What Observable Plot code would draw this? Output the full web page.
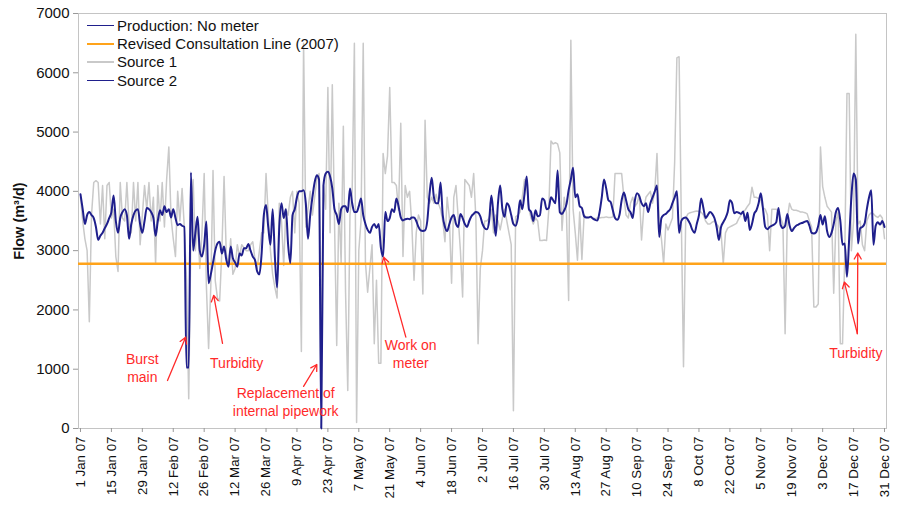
<!DOCTYPE html>
<html><head><meta charset="utf-8">
<script src="https://cdn.jsdelivr.net/npm/d3@7"></script>
<script src="https://cdn.jsdelivr.net/npm/@observablehq/plot@0.6"></script>
<style>
body{margin:0;background:#fff;font-family:"Liberation Sans",Arial,sans-serif}
#wrap{position:relative;width:903px;height:508px;overflow:hidden}
.legend{position:absolute;left:87px;top:16px;font-size:15px;color:#111}
.legend div{display:flex;align-items:center;height:18.4px;white-space:nowrap}
.legend .sw{display:inline-block;width:27px;height:0;margin-right:3px}
.ylab{position:absolute;left:19px;top:221px;transform:translate(-50%,-50%) rotate(-90deg);font-weight:bold;font-size:14.5px;white-space:nowrap;color:#111}
</style></head>
<body>
<div id="wrap">
  <div id="chart"></div>
  <div class="legend" id="legend"></div>
  <div class="ylab">Flow (m³/d)</div>
</div>
<script>
// ---- data (daily flows, 1 Jan 07 .. 31 Dec 07) ----
const seriesNames = ["Production: No meter", "Revised Consultation Line (2007)", "Source 1", "Source 2"];
const consultationLine = 2780;
const source2 = [
3950,3700,3450,3600,3650,3600,3550,3400,3180,3250,
3300,3380,3450,3550,3650,3930,3500,3300,3550,3650,
3700,3600,3200,3450,3600,3680,3700,3450,3300,3500,
3720,3700,3650,3550,3250,3500,3680,3600,3750,3650,
3700,3560,3700,3550,3430,3450,3420,3400,1030,1030,
4320,3000,3300,3570,3000,2900,3100,3490,2450,2600,
2800,3000,3120,3150,2950,3070,2850,2730,3070,2870,
2800,2730,2950,2920,3040,3040,3110,3000,2900,2840,
2650,2600,2950,3600,3770,3400,3100,3700,2900,2380,
3400,3800,3550,3700,3100,2790,3600,3700,3900,4000,
4000,4020,3800,3200,3600,3900,4150,4270,4200,0,
4100,4300,4330,4250,4050,3700,3600,3450,3700,3750,
3750,3650,4050,3800,3650,3650,3750,3880,3600,3450,
3350,3300,3400,3450,3380,3450,3050,2900,3650,3500,
3550,3700,3650,3880,3750,3560,3510,3530,3540,3530,
3560,3560,3500,3400,3340,3330,3340,3500,3950,4230,
3900,3800,3800,4150,3600,3400,3330,3450,3560,3600,
3450,3400,3620,3550,3450,3400,3500,3580,3620,3650,
3640,3580,3450,3380,3360,3500,3930,3600,3250,3800,
4100,3700,3570,3800,3750,3600,3450,3420,3550,3850,
3700,3950,4250,3700,3650,3500,3680,3580,3600,3880,
3850,3700,3720,3900,3850,3800,4350,3650,3620,3680,
3780,4020,4200,4400,3900,3950,3750,3720,3580,3560,
3560,3570,3540,3520,3510,3650,3900,4200,4050,3850,
3820,3680,3550,3520,3600,3850,3980,3850,3700,3650,
3550,3850,3970,3920,3800,3750,3800,3650,3800,3900,
4000,4100,3230,3550,3600,3620,3660,3700,3800,3900,
4000,3300,3500,3550,3560,3520,3450,3350,3300,3450,
3600,3880,3720,3550,3600,3650,3620,3550,3400,3180,
3400,3480,3550,3650,3850,3800,3630,3650,3640,3620,
3660,3500,3640,3350,3450,3620,3680,3800,3970,3700,
3400,3360,3400,3420,3440,3480,3720,3430,3380,3420,
3620,3430,3330,3380,3420,3440,3460,3470,3490,3500,
3420,3300,3290,3310,3420,3600,3440,3580,3330,3230,
3300,3450,3650,3720,3500,3100,3120,2560,3200,3900,
4300,4200,3120,3380,3400,3460,3700,3900,4020,3100,
3420,3480,3440,3500,3400
];
const source1 = [
3900,3500,3200,3000,1800,3600,4150,4180,4150,3450,
4100,3200,4100,4150,3550,3700,2900,2650,4150,3550,
3500,4150,3450,3300,4150,3500,4150,3100,3600,4100,
3700,4150,3500,3900,2780,4100,3500,4150,3400,4200,
4750,3550,3200,2900,4000,3500,4050,3400,2500,500,
3300,4200,3000,3500,2700,3300,4300,2400,1350,2400,
4350,2500,2200,2150,3000,4250,2950,2750,3200,2600,
2700,3100,2900,3100,3050,3000,3000,3100,3150,2850,
2700,3000,3300,3300,4300,3600,3000,2600,2380,2200,
3800,3500,2750,3700,3600,3900,4000,3300,4000,3800,
1300,6500,3400,3700,4000,3600,3900,4200,4300,1200,
4100,3700,5750,3300,5800,3500,1400,3800,2800,5100,
2300,640,3600,4000,6500,100,3000,3500,6500,2800,
2300,2700,3100,1430,2500,1100,1100,4640,4300,4600,
5750,4150,4150,4100,3680,5150,2900,4100,3900,4000,
3440,2500,3300,3600,3500,2270,5200,3900,3800,3900,
3800,3950,3800,3700,3500,3150,3900,3550,2450,3900,
4100,3550,3000,2220,4200,4150,4100,3900,4300,3550,
1430,2700,3000,3500,3500,3550,3700,3300,3600,3500,
3350,3550,3700,3500,3300,3100,300,3570,3600,3650,
3900,4200,4130,3700,3550,3450,3550,3500,3170,3170,
3180,3170,3680,4850,4800,4820,4800,4650,3340,3900,
3650,2160,6550,3700,3300,2840,3650,2850,3600,3560,
3560,3560,3550,3540,3550,3550,3560,3560,3570,3560,
3560,3570,4300,4300,4300,4300,3900,3600,3550,3800,
3900,3750,3800,3950,3180,3700,3900,3950,4000,3800,
4000,4640,3460,3200,2780,3450,3350,3450,3550,4500,
6250,6270,3550,1040,3550,3620,3640,3650,3660,3670,
3660,3650,3600,3500,3450,3450,3480,3500,3450,3400,
3300,2780,3300,3380,3400,3420,3440,3460,3540,3600,
3650,3690,3750,3800,4070,3900,3900,3880,3850,3720,
3700,3600,3000,3700,3700,3700,3650,3550,3450,1600,
3550,3800,3700,3680,3680,3670,3650,3650,3640,3620,
3500,3400,2050,2050,2100,4750,4080,3900,3750,3700,
3650,2280,3500,3650,1430,1430,2900,5650,5650,3000,
3500,6650,3450,3500,3100,3000,3500,3600,3640,3620,
3580,3560,3600,3550,3200
];
const yTicks = [0,1000,2000,3000,4000,5000,6000,7000];
const xTickDays = [0,14,28,42,56,70,84,98,112,126,140,154,168,182,196,210,224,238,252,266,280,294,308,322,336,350,364];
// annotations (day of year, flow)
const noteTexts = ["Burst\nmain","Turbidity","Replacement of\ninternal pipework","Work on\nmeter","Turbidity"];
const noteDays = [28, 70.7, 92.9, 149.5, 351];
const noteValues = [1030, 1115, 456, 1265, 1285];
const arrowFromDays = [39.4, 64.3, 101, 147.3, 351.7, 351.7];
const arrowFromValues = [810, 1435, 710, 1540, 1600, 1600];
const arrowToDays = [47.6, 60.3, 107, 137.3, 345.8, 351.9];
const arrowToValues = [1540, 2245, 1080, 2890, 2470, 2960];

// ---- build ----
const DAY = 864e5, start = Date.UTC(2007,0,1);
const dayDate = d => new Date(start + d*DAY);
const rows = source2.map((v,i)=>({date:dayDate(i), s1:source1[i], s2:v}));
const notes = noteTexts.map((t,i)=>({date:dayDate(noteDays[i]), v:noteValues[i], t}));
const arrows = arrowFromDays.map((d,i)=>({x1:dayDate(d), y1:arrowFromValues[i], x2:dayDate(arrowToDays[i]), y2:arrowToValues[i]}));
const BLUE="#1f1f8c", ORANGE="#ffa31a", GREY="#c9c9c9", RED="#ff2a2a";

const chart = Plot.plot({
  width:903, height:508,
  marginLeft:78, marginTop:13, marginRight:17, marginBottom:80,
  style:{fontFamily:"'Liberation Sans', Arial, sans-serif", color:"#111", background:"#fff"},
  x:{type:"utc", domain:[dayDate(-0.9), dayDate(364.9)]},
  y:{domain:[0,7000]},
  marks:[
    Plot.frame({stroke:"#c4c4c4"}),
    Plot.axisY({ticks:yTicks, tickFormat:d=>String(d), tickSize:5, tickPadding:4, fontSize:15, stroke:"#999", label:null}),
    Plot.axisX({ticks:xTickDays.map(dayDate), tickFormat:d3.utcFormat("%-d %b %y"), tickRotate:-90, tickSize:4, tickPadding:4, fontSize:13.3, stroke:"#999", label:null}),
    Plot.lineY(rows,{x:"date", y:"s1", stroke:GREY, strokeWidth:1.5}),
    Plot.ruleY([consultationLine],{stroke:ORANGE, strokeWidth:2.5}),
    Plot.lineY(rows,{x:"date", y:"s2", stroke:BLUE, strokeWidth:2, curve:"monotone-x"}),
    Plot.arrow(arrows,{x1:"x1", y1:"y1", x2:"x2", y2:"y2", stroke:RED, strokeWidth:1.3, headLength:8}),
    Plot.text(notes,{x:"date", y:"v", text:"t", fill:RED, fontSize:14, lineHeight:1.3})
  ]
});
document.getElementById("chart").appendChild(chart);

const legendColors = [BLUE, ORANGE, GREY, BLUE];
const legendWidths = [1.6, 2.5, 2, 1.6];
const lg = document.getElementById("legend");
seriesNames.forEach((n,i)=>{
  const row = document.createElement("div");
  const sw = document.createElement("span");
  sw.className="sw"; sw.style.borderTop = legendWidths[i]+"px solid "+legendColors[i];
  row.appendChild(sw);
  row.appendChild(document.createTextNode(n));
  lg.appendChild(row);
});
</script>
</body></html>
